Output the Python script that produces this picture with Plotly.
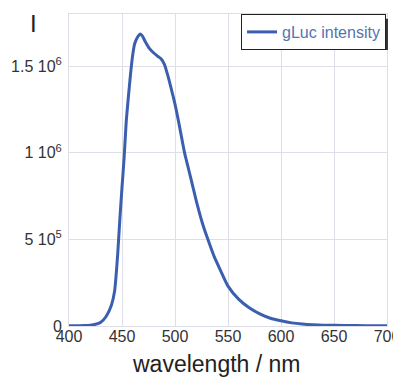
import plotly.graph_objects as go

wavelength = [400, 410, 415, 420, 425, 430, 435, 440, 443, 446, 448, 450, 452, 454, 456, 458,
              460, 462, 465, 467, 469, 472, 476, 480, 484, 487, 490, 493, 496, 500, 504, 509,
              513, 517, 521, 526, 531, 537, 543, 550, 560, 570, 580, 590, 600, 610, 620, 630,
              640, 660, 680, 700]
intensity_e6 = [0.002, 0.002, 0.003, 0.005, 0.010, 0.022, 0.055, 0.12, 0.20, 0.42, 0.62, 0.80,
                0.97, 1.18, 1.32, 1.45, 1.56, 1.63, 1.67, 1.685, 1.675, 1.64, 1.60, 1.575, 1.555,
                1.54, 1.51, 1.45, 1.38, 1.28, 1.16, 1.00, 0.90, 0.80, 0.70, 0.59, 0.50, 0.40,
                0.32, 0.23, 0.155, 0.105, 0.07, 0.045, 0.03, 0.018, 0.011, 0.007, 0.005, 0.003,
                0.002, 0.002]
intensity = [v * 1e6 for v in intensity_e6]

x_ticks = [400, 450, 500, 550, 600, 650, 700]
y_ticks = [0, 5e5, 1e6, 1.5e6]
y_ticktext = ["0", "5 10<sup>5</sup>", "1 10<sup>6</sup>", "1.5 10<sup>6</sup>"]

FONT = "Liberation Sans, Arial, sans-serif"
GRID = "#dedee8"

fig = go.Figure()
fig.add_trace(go.Scatter(
    x=wavelength, y=intensity, mode="lines", name="gLuc intensity",
    line=dict(color="#3b5fae", width=3, shape="spline", smoothing=0.6),
))

# page body has an 8px default margin, so the figure is sized to fit the window
fig.update_layout(
    width=393, height=373,
    margin=dict(l=61, r=14, t=6, b=55, autoexpand=False),
    paper_bgcolor="white", plot_bgcolor="white",
    font=dict(family=FONT, color="#333333"),
    showlegend=True,
    legend=dict(
        x=0.997, y=1.0, xanchor="right", yanchor="top",
        bgcolor="white", bordercolor="#222222", borderwidth=1,
        font=dict(family=FONT, size=16, color="#5574ae"),
        itemwidth=30, tracegroupgap=0,
    ),
    # legend drop shadow
    shapes=[dict(type="rect", xref="paper", yref="paper",
                 x0=0.56, x1=1.003, y0=0.885, y1=0.985,
                 fillcolor="#333333", line=dict(width=0), layer="above")],
    xaxis=dict(
        range=[400, 700], tickvals=x_ticks, ticktext=[str(t) for t in x_ticks],
        showgrid=True, gridcolor=GRID, gridwidth=1,
        showline=True, linecolor=GRID, mirror=True, automargin=False,
        zeroline=False, ticks="", tickfont=dict(size=16, color="#333333"),
        ticklabelstandoff=-4,
    ),
    yaxis=dict(
        range=[0, 1.8e6], tickvals=y_ticks, ticktext=y_ticktext,
        showgrid=True, gridcolor=GRID, gridwidth=1,
        showline=True, linecolor=GRID, mirror=True, automargin=False,
        zeroline=False, ticks="", tickfont=dict(size=16, color="#333333"),
        ticklabelstandoff=3,
    ),
    annotations=[
        dict(text="I", xref="paper", yref="paper", x=-0.113, y=0.971,
             xanchor="center", yanchor="middle", showarrow=False,
             font=dict(family=FONT, size=24, color="#222222")),
        dict(text="wavelength / nm", xref="paper", yref="paper", x=0.463, y=-0.075,
             xanchor="center", yanchor="top", showarrow=False,
             font=dict(family=FONT, size=23, color="#222222")),
    ],
)

fig.write_html("out.html")
